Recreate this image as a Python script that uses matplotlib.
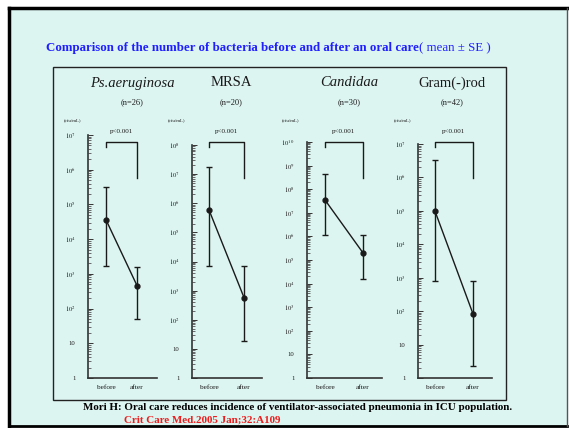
import matplotlib
matplotlib.use('Agg')
import matplotlib.pyplot as plt
from matplotlib.lines import Line2D
from matplotlib.patches import Rectangle
from matplotlib.ticker import FixedLocator, LogLocator, NullFormatter
from matplotlib.transforms import blended_transform_factory

plt.rcParams['font.family'] = ['Liberation Serif', 'DejaVu Serif']
plt.rcParams['mathtext.fontset'] = 'stix'

W, H = 569, 428

# 菌数 (cfu/mL), mean ± SE
groups = ['Ps.aeruginosa', 'MRSA', 'Candidaa', 'Gram(-)rod']
italic = [True, False, True, False]
n_labels = ['(n=26)', '(n=20)', '(n=30)', '(n=42)']
p_labels = ['p<0.001', 'p<0.001', 'p<0.001', 'p<0.001']
timepoints = ['before', 'after']
top_decade = [7, 8, 10, 7]

before_mean = [3.6e4, 5.9e5, 3.5e7, 9.8e4]
before_upper = [3.1e5, 1.8e7, 4.5e8, 3.3e6]
before_lower = [1.7e3, 7.1e3, 1.1e6, 7.9e2]
after_mean = [4.6e2, 5.8e2, 2.0e5, 83]
after_upper = [1.6e3, 7.1e3, 1.2e6, 7.9e2]
after_lower = [49, 18, 1.5e4, 2.3]

# パネル配置 (ピクセル): 軸左端, 軸右端, 上端, before位置, after位置, タイトル中心
layout = [
    (88, 157, 135, 106, 137, 132),
    (192, 262, 145, 209, 244, 231),
    (307, 382, 142, 325, 363, 349),
    (418, 492, 144, 435, 473, 452),
]
axis_bottom = 378

bg = '#ddf5f1'
blue = '#1f1fff'
ink = '#1a1a1a'


def fx(x):
    return x / W


def fy(y):
    return 1 - y / H


fig = plt.figure(figsize=(W / 100, H / 100), dpi=100)
fig.patch.set_facecolor('white')

# 外枠
fig.add_artist(Rectangle((fx(9), fy(426)), (567 - 9) / W, (426 - 8) / H,
                         transform=fig.transFigure, facecolor=bg, edgecolor='none', zorder=-10))
fig.add_artist(Line2D([fx(9), fx(567)], [fy(8), fy(8)], transform=fig.transFigure, color='black', lw=2.5))
fig.add_artist(Line2D([fx(9), fx(9)], [fy(8), fy(426)], transform=fig.transFigure, color='black', lw=2.5))
fig.add_artist(Line2D([fx(9), fx(567)], [fy(426), fy(426)], transform=fig.transFigure, color='black', lw=2))
fig.add_artist(Line2D([fx(567), fx(567)], [fy(8), fy(426)], transform=fig.transFigure, color='#555555', lw=1))

# 内枠
fig.add_artist(Rectangle((fx(53), fy(400)), (506 - 53) / W, (400 - 67) / H,
                         transform=fig.transFigure, facecolor='none', edgecolor='#222222', lw=1))

# タイトル
t1 = fig.text(fx(46), fy(48), 'Comparison of the number of bacteria before and after an oral care',
              fontsize=9.3, fontweight='bold', color=blue, va='center')
fig.canvas.draw()
bb = t1.get_window_extent()
fig.text(bb.x1 / W, fy(48), '( mean \u00b1 SE )', fontsize=9.3, color=blue, va='center')

for i in range(4):
    x0, x1, ytop, xb, xa, cx = layout[i]
    scale = xa - xb
    lo = -(xb - x0) / scale
    hi = lo + (x1 - x0) / scale

    ax = fig.add_axes([fx(x0), fy(axis_bottom), (x1 - x0) / W, (axis_bottom - ytop) / H])
    ax.set_facecolor('none')
    ax.set_yscale('log')
    ax.set_ylim(1, 10 ** top_decade[i])
    ax.set_xlim(lo, hi)

    for s in ['top', 'right']:
        ax.spines[s].set_visible(False)
    for s in ['left', 'bottom']:
        ax.spines[s].set_color('#333333')
        ax.spines[s].set_linewidth(1.2)

    ticks = [10 ** k for k in range(top_decade[i] + 1)]
    labels = ['1', '10'] + ['$10^{%d}$' % k for k in range(2, top_decade[i] + 1)]
    ax.yaxis.set_major_locator(FixedLocator(ticks))
    ax.set_yticklabels(labels, fontsize=4.8, color=ink)
    ax.yaxis.set_minor_locator(LogLocator(base=10, subs=range(2, 10), numticks=50))
    ax.yaxis.set_minor_formatter(NullFormatter())
    ax.tick_params(axis='y', which='major', direction='in', length=3.5, width=0.7, pad=9, colors='#333333')
    ax.tick_params(axis='y', which='minor', direction='in', length=2.5, width=0.5, colors='#333333')
    ax.tick_params(axis='y', labelcolor=ink)

    ax.set_xticks([0, 1])
    ax.set_xticklabels(timepoints, fontsize=5.3, color=ink)
    ax.tick_params(axis='x', length=0, pad=5)

    # 平均値と誤差
    means = [before_mean[i], after_mean[i]]
    err_lo = [before_mean[i] - before_lower[i], after_mean[i] - after_lower[i]]
    err_hi = [before_upper[i] - before_mean[i], after_upper[i] - after_mean[i]]
    ax.errorbar([0, 1], means, yerr=[err_lo, err_hi], fmt='none', ecolor=ink,
                elinewidth=1, capsize=2.2, capthick=1, clip_on=False)
    ax.plot([0, 1], means, '-o', color=ink, lw=1, ms=3.5, clip_on=False)

    # 有意差ブラケット
    trans = blended_transform_factory(ax.transData, fig.transFigure)
    ax.plot([0, 0, 1, 1], [fy(147), fy(142), fy(142), fy(178)], transform=trans,
            color=ink, lw=1, clip_on=False)
    ax.text(0.5, fy(132), p_labels[i], transform=trans, ha='center', va='center',
            fontsize=5, color=ink)

    fig.text(fx(cx), fy(83), groups[i], ha='center', va='center', fontsize=10.5,
             style='italic' if italic[i] else 'normal', color=ink)
    fig.text(fx(cx), fy(102), n_labels[i], ha='center', va='center', fontsize=6, color=ink)
    fig.text(fx(x0 - 16), fy(120), '(cfu/mL)', ha='center', va='center', fontsize=3.5, color=ink)

# 出典
fig.text(fx(83), fy(408), 'Mori H: Oral care reduces incidence of ventilator-associated pneumonia in ICU population.',
         fontsize=7.9, fontweight='bold', color='black', va='center')
fig.text(fx(124), fy(420), 'Crit Care Med.2005 Jan;32:A109',
         fontsize=7.9, fontweight='bold', color='#ee1c1c', va='center')

fig.savefig('out.png', dpi=100)
